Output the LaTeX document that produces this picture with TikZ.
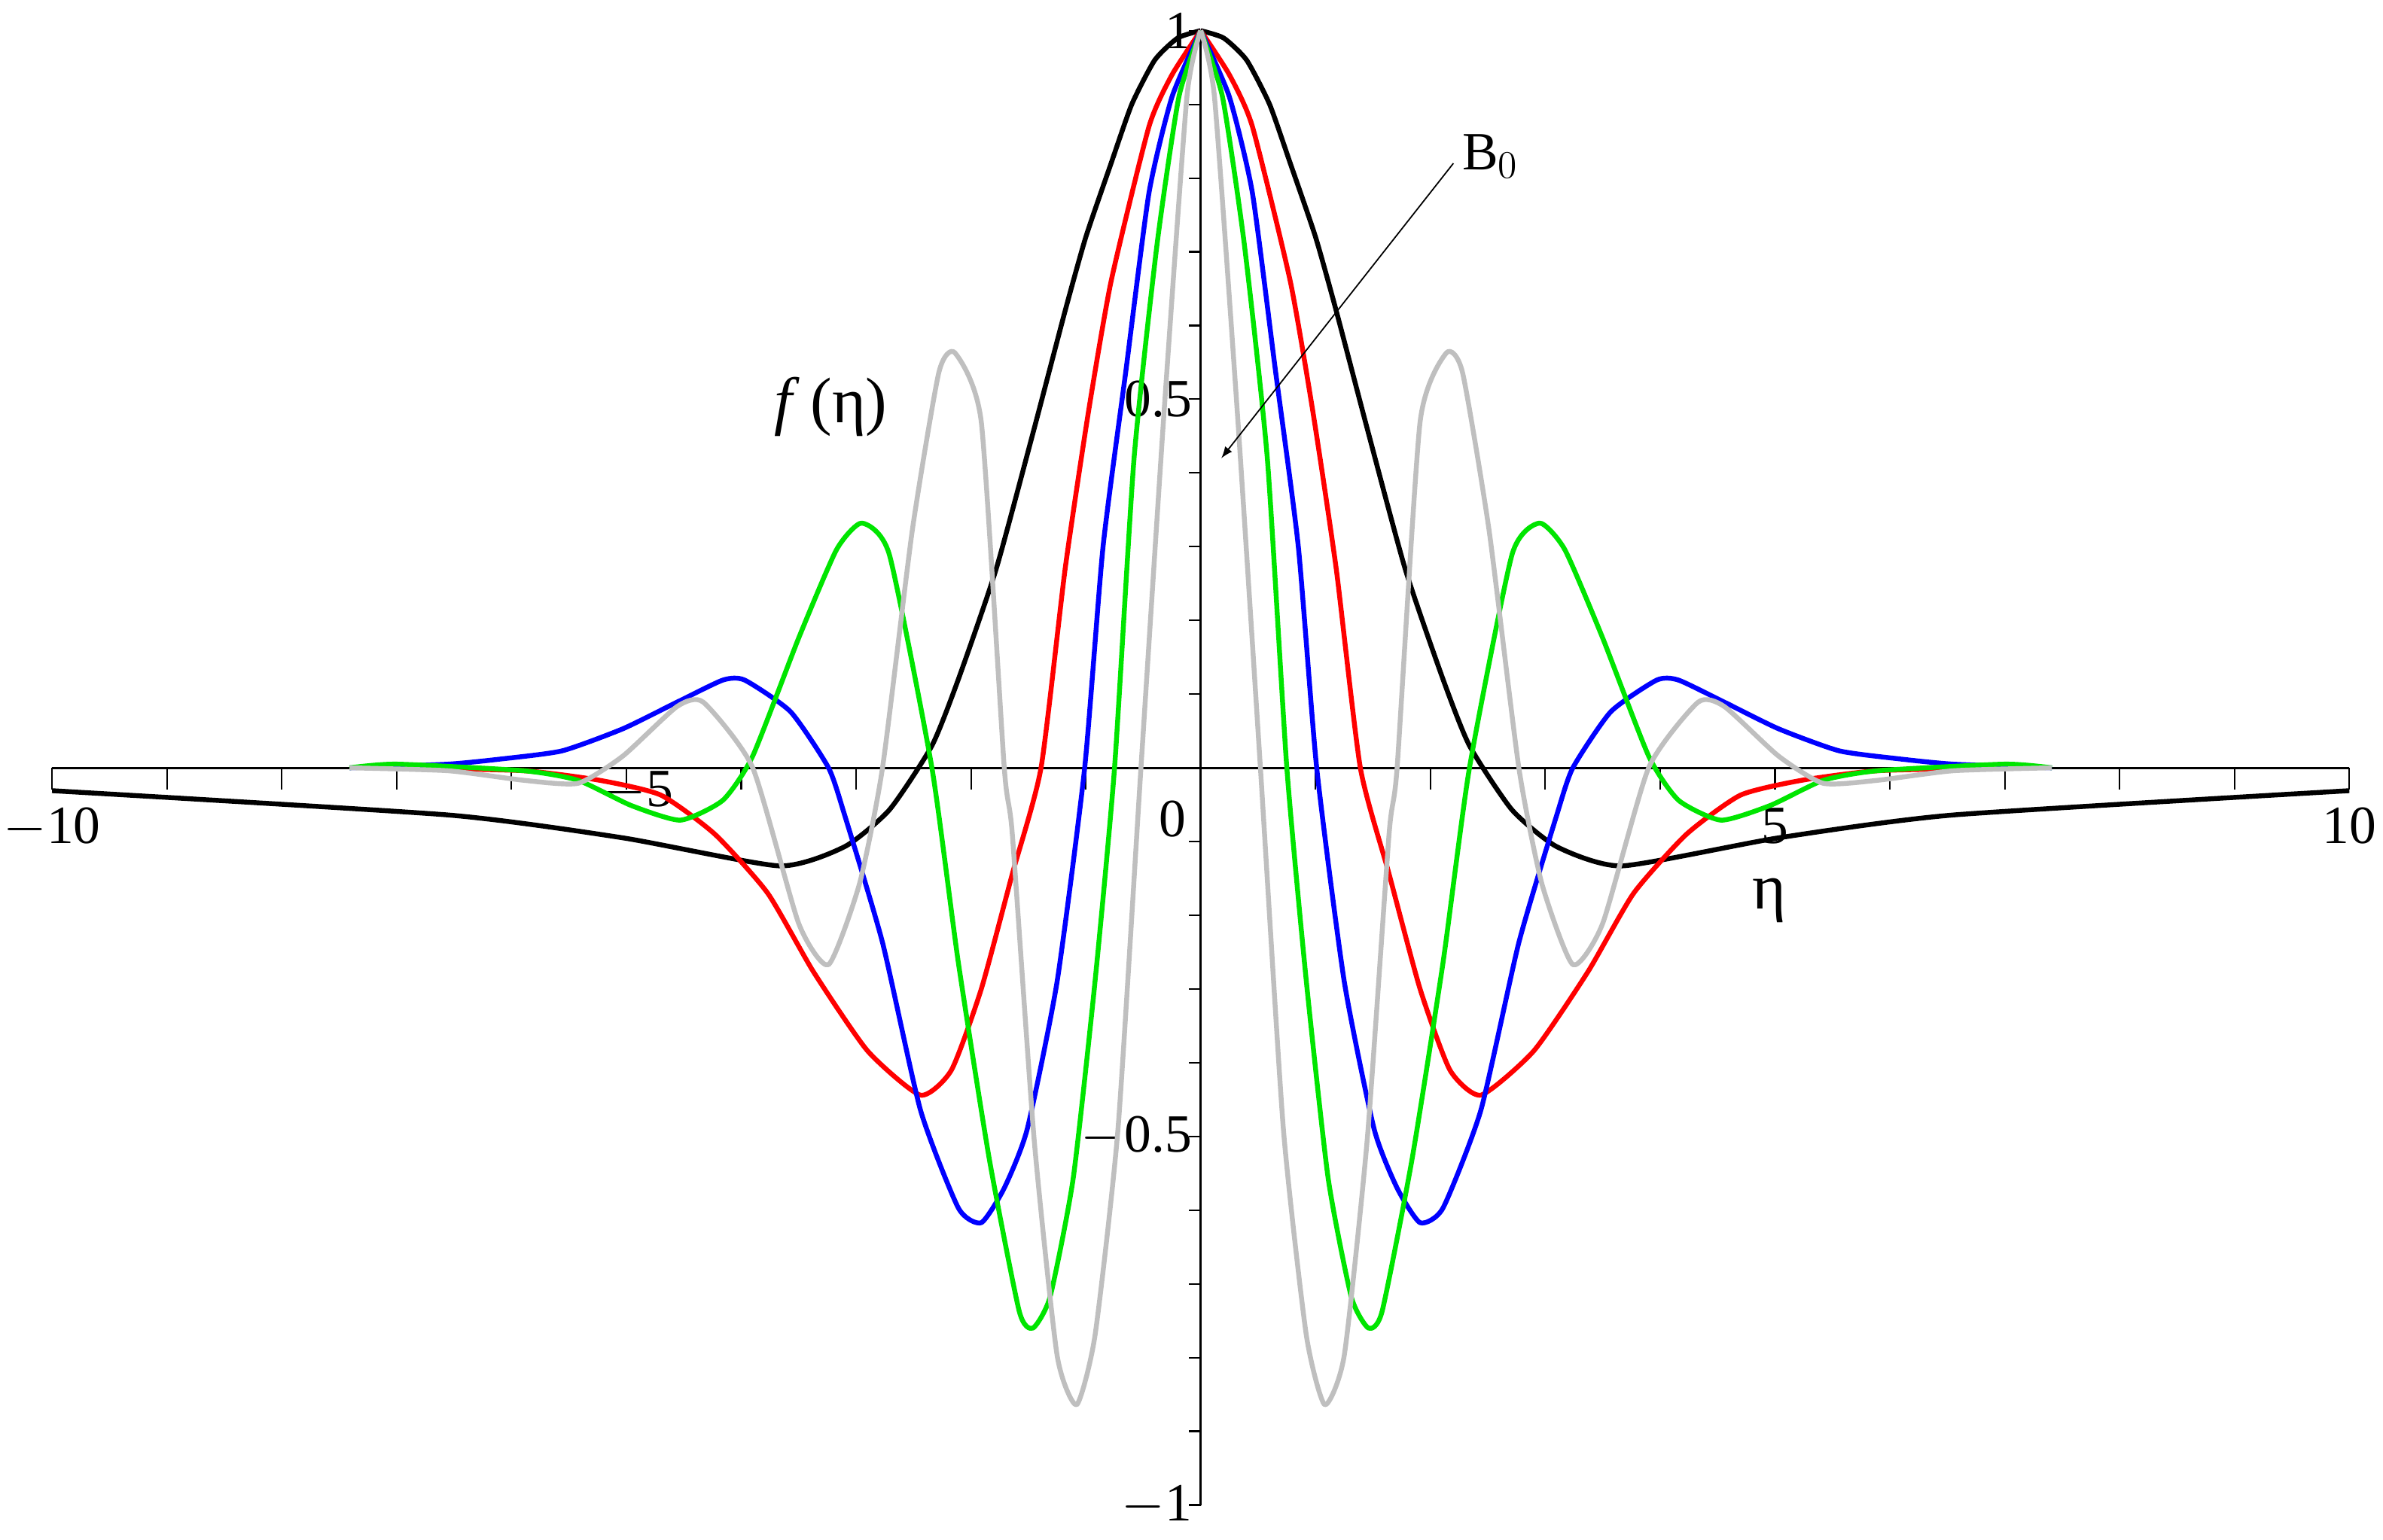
\documentclass[tikz,border=0pt]{standalone}
\usepackage{fontspec}
\setmainfont{Liberation Serif}
\begin{document}
\begin{tikzpicture}[x=1.5cm,y=9.63cm,
  crv/.style={line width=1.8pt,line join=round},
  lbl/.style={font=\fontsize{20}{24}\selectfont,inner sep=1pt},
  big/.style={font=\fontsize{24}{28}\selectfont,inner sep=1pt}]
\useasboundingbox (-15.68cm,-10.08cm) rectangle (15.44cm,10.03cm);
\def\blk{(0,1) (0.2,0.99) (0.4,0.96) (0.6,0.9) (0.78,0.82) (1.0,0.72) (1.18,0.62) (1.45,0.46) (1.78,0.27) (2.11,0.12) (2.34,0.03) (2.71,-0.057) (3.1,-0.107) (3.67,-0.133) (5.03,-0.095) (6.55,-0.064) (10,-0.031)}
\def\red{(0,1) (0.25,0.94) (0.45,0.87) (0.78,0.66) (0.98,0.48) (1.18,0.27) (1.39,0) (1.64,-0.144) (1.91,-0.30) (2.17,-0.41) (2.44,-0.444) (2.9,-0.384) (3.37,-0.277) (3.77,-0.17) (4.23,-0.09) (4.7,-0.037) (5.23,-0.017) (5.89,-0.004) (7.0,0)}
\def\blu{(0,1) (0.25,0.91) (0.45,0.78) (0.65,0.54) (0.85,0.30) (1.01,0) (1.25,-0.29) (1.51,-0.49) (1.71,-0.57) (1.91,-0.617) (2.11,-0.597) (2.44,-0.464) (2.77,-0.237) (3.1,-0.064) (3.24,0) (3.57,0.076) (3.97,0.119) (4.16,0.119) (4.56,0.089) (5.03,0.053) (5.56,0.023) (6.09,0.012) (6.55,0.005) (7.41,0)}
\def\grn{(0,1) (0.19,0.91) (0.38,0.71) (0.58,0.42) (0.75,0) (0.92,-0.29) (1.11,-0.557) (1.31,-0.717) (1.46,-0.76) (1.58,-0.737) (1.84,-0.531) (2.11,-0.264) (2.34,0) (2.71,0.289) (2.95,0.332) (3.17,0.296) (3.5,0.176) (3.9,0.016) (4.16,-0.044) (4.53,-0.071) (4.96,-0.051) (5.42,-0.017) (5.89,-0.004) (7.0,0.005) (7.41,0)}
\def\gry{(0,1) (0.12,0.91) (0.32,0.48) (0.52,0) (0.72,-0.49) (0.92,-0.77) (1.08,-0.864) (1.25,-0.797) (1.45,-0.504) (1.64,-0.09) (1.71,0) (1.91,0.469) (2.14,0.563) (2.28,0.536) (2.51,0.323) (2.77,0) (2.97,-0.157) (3.24,-0.267) (3.5,-0.211) (3.9,0) (4.33,0.089) (4.56,0.083) (5.03,0.016) (5.42,-0.021) (5.89,-0.017) (6.55,-0.004) (7.41,0)}
% axes
\coordinate (xl) at (-10,0); \coordinate (xr) at (10,0);
\coordinate (yb) at (0,-1); \coordinate (yt) at (0,1);
\draw[line width=0.8pt] (xl) -- (xr);
\draw[line width=0.8pt] (yb) -- (yt);
\foreach \i in {-10,...,10} \draw[line width=0.6pt] (\i,0) -- (\i,-0.03);
\foreach \j in {-10,...,10} \draw[line width=0.6pt] (0,\j/10) -- (-0.1,\j/10);
\node[lbl,anchor=north] (t1) at (-10,-0.05) {$-$10};
\node[lbl,anchor=north] (t2) at (-4.9,0) {$-$5};
\node[lbl,anchor=north east] (t3) at (-0.1,-0.04) {0};
\node[lbl,anchor=north] (t4) at (5,-0.05) {5};
\node[lbl,anchor=north] (t5) at (10,-0.05) {10};
\node[lbl,anchor=east] (u1) at (-0.05,1) {1};
\node[lbl,anchor=east] (u2) at (-0.05,0.5) {0.5};
\node[lbl,anchor=east] (u3) at (-0.05,-0.5) {$-$0.5};
\node[lbl,anchor=east] (u4) at (-0.05,-1) {$-$1};
% curves
\foreach \pts/\col in {\blk/black,\red/red,\blu/blue,\grn/green!90!black,\gry/black!25}{
  \draw[crv,draw=\col] plot[smooth,tension=0.35] coordinates \pts;
  \draw[crv,draw=\col,xscale=-1] plot[smooth,tension=0.35] coordinates \pts;
}
\node[big] (eta) at (4.95,-0.18) {η};
\node[big] (feta) at (-3.22,0.49) {\textit{f}\,(η)};
\node[lbl,anchor=west] (B0) at (2.25,0.83) {B$_0$};
\coordinate (Btip) at (0.18,0.42);
\draw[line width=0.5pt,-latex] (B0.west) ++(-0.05,-0.01) -- (Btip);
\end{tikzpicture}
\end{document}
